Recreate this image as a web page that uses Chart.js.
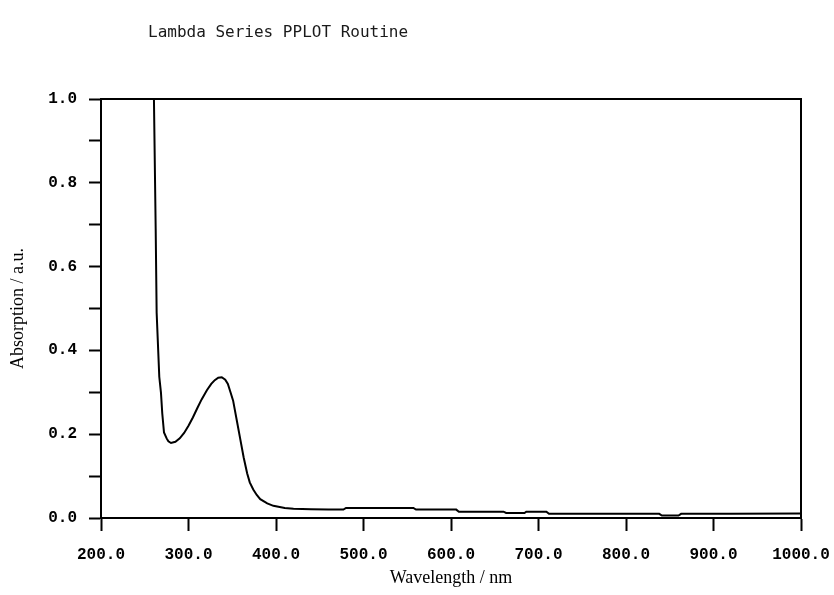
<!DOCTYPE html>
<html>
<head>
<meta charset="utf-8">
<script src="https://cdn.jsdelivr.net/npm/chart.js@4.4.1/dist/chart.umd.min.js"></script>
<style>
  html, body { margin: 0; padding: 0; background: #fff; }
  #wrap { width: 834px; height: 595px; position: relative; }
</style>
</head>
<body>
<div id="wrap"><canvas id="spectrum"></canvas></div>
<script>
// UV-Vis absorption spectrum
const wavelength = [260.5, 262.5, 263.6, 266.6, 268.5, 270, 272, 275, 277, 280,
  285, 290, 295, 300, 305, 310, 315, 321, 326, 330,
  334, 338, 342, 345, 348, 351, 355, 359, 363, 367,
  370, 374, 378, 382, 390, 397, 410, 420, 440, 460,
  477, 480, 515, 557, 560, 606, 609, 660, 663, 684,
  686, 709, 712, 838, 841, 860, 863, 920, 1000];
const absorption = [1.0, 0.69, 0.49, 0.337, 0.30, 0.25, 0.204, 0.19, 0.183, 0.179,
  0.182, 0.19, 0.203, 0.22, 0.24, 0.262, 0.283, 0.305, 0.32, 0.329,
  0.335, 0.336, 0.33, 0.32, 0.30, 0.28, 0.235, 0.19, 0.145, 0.107,
  0.085, 0.068, 0.055, 0.045, 0.035, 0.029, 0.024, 0.022, 0.021, 0.020,
  0.020, 0.024, 0.024, 0.024, 0.020, 0.020, 0.015, 0.015, 0.012, 0.012,
  0.015, 0.015, 0.010, 0.010, 0.006, 0.006, 0.010, 0.010, 0.011];

const xTicks = [200, 300, 400, 500, 600, 700, 800, 900, 1000];
const yTicks = [0.0, 0.2, 0.4, 0.6, 0.8, 1.0];
const plotTitle = 'Lambda Series PPLOT Routine';

var points = [];
for (var i = 0; i < wavelength.length; i++) {
  points.push({ x: wavelength[i], y: absorption[i] });
}

// frame round the plot and the header line
const frame = {
  id: 'frame',
  afterDraw: function (chart) {
    var ctx = chart.ctx, a = chart.chartArea;
    ctx.save();
    ctx.strokeStyle = '#000';
    ctx.lineWidth = 2;
    ctx.strokeRect(a.left, a.top, a.right - a.left, a.bottom - a.top);
    ctx.fillStyle = '#1a1a1a';
    ctx.font = '16px "DejaVu Sans Mono"';
    ctx.textBaseline = 'middle';
    ctx.fillText(plotTitle, 148, 33);
    ctx.restore();
  }
};

const tickFont = { family: '"Liberation Mono"', size: 16, weight: 'bold' };
const serif = { family: '"Liberation Serif"', size: 18 };

new Chart(document.getElementById('spectrum'), {
  type: 'line',
  data: {
    datasets: [{
      data: points,
      borderColor: '#000',
      borderWidth: 2,
      pointRadius: 0,
      tension: 0,
      fill: false
    }]
  },
  options: {
    responsive: true,
    maintainAspectRatio: false,
    animation: false,
    layout: { padding: { left: 0, top: 99, right: 33, bottom: 0 } },
    plugins: { legend: { display: false }, tooltip: { enabled: false } },
    scales: {
      x: {
        type: 'linear',
        min: 200,
        max: 1000,
        afterFit: function (s) { s.height = 77; s.paddingLeft = 0; s.paddingRight = 0; },
        afterBuildTicks: function (s) { s.ticks = xTicks.map(function (v) { return { value: v }; }); },
        ticks: {
          color: '#000',
          font: tickFont,
          padding: 14,
          maxRotation: 0,
          autoSkip: false,
          callback: function (v) { return v.toFixed(1); }
        },
        grid: { drawOnChartArea: false, tickLength: 13, tickWidth: 2, tickColor: '#000' },
        border: { color: '#000', width: 2 },
        title: { display: true, text: 'Wavelength / nm', color: '#000', font: serif, padding: { top: 0, bottom: 6 } }
      },
      y: {
        min: 0,
        max: 1,
        afterFit: function (s) { s.width = 101; s.paddingTop = 0; s.paddingBottom = 0; },
        ticks: {
          stepSize: 0.1,
          color: '#000',
          font: tickFont,
          padding: 12,
          callback: function (v, i) {
            return yTicks.indexOf(Math.round(v * 10) / 10) >= 0 && i % 2 === 0 ? v.toFixed(1) : '';
          }
        },
        grid: { drawOnChartArea: false, tickLength: 12, tickWidth: 2, tickColor: '#000' },
        border: { color: '#000', width: 2 },
        title: { display: true, text: 'Absorption / a.u.', color: '#000', font: serif, padding: { top: 7, bottom: 0 } }
      }
    }
  },
  plugins: [frame]
});
</script>
</body>
</html>
